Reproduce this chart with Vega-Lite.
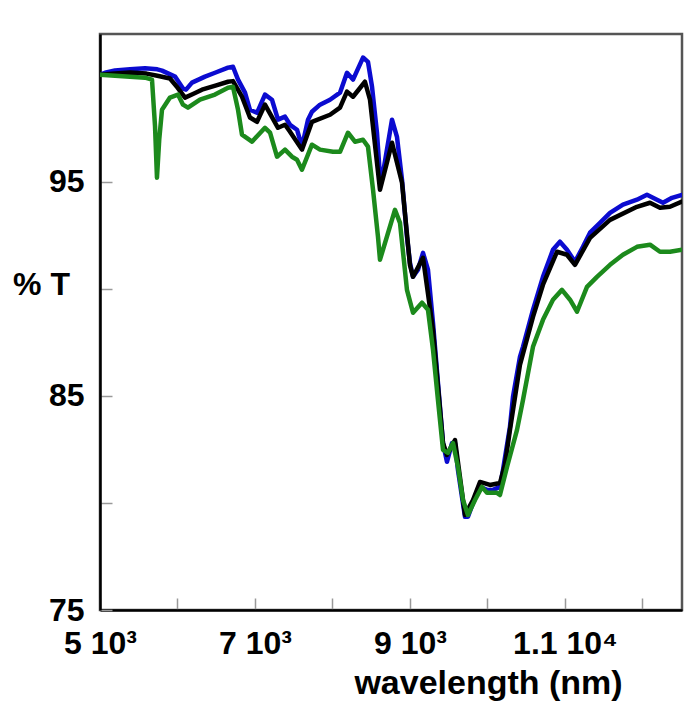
{
  "$schema": "https://vega.github.io/schema/vega-lite/v6.json",
  "width": 582,
  "height": 576,
  "autosize": "none",
  "padding": {"left": 100, "top": 34, "right": 3, "bottom": 99},
  "background": "white",
  "config": {
    "view": {"stroke": "#555555", "strokeWidth": 2.5},
    "font": "Liberation Sans"
  },
  "datasets": {
    "blue": [
      {"wl":5000,"t":100.0},{"wl":5065,"t":100.09},{"wl":5194,"t":100.2},{"wl":5387,"t":100.25},{"wl":5581,"t":100.3},{"wl":5740,"t":100.25},{"wl":5800,"t":100.19},{"wl":5968,"t":99.91},{"wl":6071,"t":99.35},{"wl":6110,"t":99.3},{"wl":6187,"t":99.63},{"wl":6355,"t":99.91},{"wl":6484,"t":100.09},{"wl":6652,"t":100.33},{"wl":6716,"t":100.37},{"wl":6781,"t":99.77},{"wl":6871,"t":99.16},{"wl":6935,"t":98.36},{"wl":7026,"t":98.22},{"wl":7129,"t":99.07},{"wl":7219,"t":98.83},{"wl":7297,"t":97.9},{"wl":7387,"t":98.04},{"wl":7452,"t":97.66},{"wl":7542,"t":97.43},{"wl":7606,"t":96.64},{"wl":7684,"t":97.9},{"wl":7735,"t":98.27},{"wl":7839,"t":98.6},{"wl":7968,"t":98.83},{"wl":8097,"t":99.16},{"wl":8187,"t":100.09},{"wl":8265,"t":99.77},{"wl":8394,"t":100.8},{"wl":8458,"t":100.6},{"wl":8510,"t":99.44},{"wl":8574,"t":97.29},{"wl":8613,"t":95.23},{"wl":8652,"t":95.42},{"wl":8768,"t":97.9},{"wl":8832,"t":97.1},{"wl":8897,"t":95.09},{"wl":8961,"t":92.43},{"wl":9000,"t":91.21},{"wl":9039,"t":90.56},{"wl":9103,"t":90.89},{"wl":9168,"t":91.68},{"wl":9232,"t":90.89},{"wl":9297,"t":88.41},{"wl":9361,"t":85.61},{"wl":9426,"t":82.8},{"wl":9477,"t":81.92},{"wl":9542,"t":82.8},{"wl":9581,"t":82.8},{"wl":9619,"t":81.54},{"wl":9671,"t":80.28},{"wl":9710,"t":79.35},{"wl":9748,"t":79.35},{"wl":9813,"t":80.0},{"wl":9903,"t":80.75},{"wl":9994,"t":80.61},{"wl":10071,"t":80.61},{"wl":10161,"t":80.75},{"wl":10200,"t":81.54},{"wl":10290,"t":83.55},{"wl":10329,"t":84.95},{"wl":10419,"t":86.82},{"wl":10458,"t":87.29},{"wl":10587,"t":89.02},{"wl":10716,"t":90.56},{"wl":10845,"t":91.82},{"wl":10935,"t":92.2},{"wl":11026,"t":91.82},{"wl":11129,"t":91.26},{"wl":11232,"t":91.96},{"wl":11323,"t":92.62},{"wl":11452,"t":93.08},{"wl":11581,"t":93.55},{"wl":11748,"t":93.93},{"wl":11929,"t":94.16},{"wl":12058,"t":94.39},{"wl":12187,"t":94.16},{"wl":12265,"t":94.02},{"wl":12381,"t":94.25},{"wl":12510,"t":94.39}
    ],
    "black": [
      {"wl":5000,"t":100.0},{"wl":5194,"t":100.05},{"wl":5387,"t":100.1},{"wl":5600,"t":100.05},{"wl":5740,"t":99.95},{"wl":5903,"t":99.82},{"wl":6000,"t":99.4},{"wl":6097,"t":98.93},{"wl":6200,"t":99.1},{"wl":6316,"t":99.3},{"wl":6500,"t":99.5},{"wl":6652,"t":99.67},{"wl":6716,"t":99.7},{"wl":6832,"t":98.97},{"wl":6935,"t":98.0},{"wl":7026,"t":97.8},{"wl":7129,"t":98.6},{"wl":7297,"t":97.52},{"wl":7387,"t":97.66},{"wl":7452,"t":97.34},{"wl":7606,"t":96.5},{"wl":7735,"t":97.8},{"wl":7968,"t":98.13},{"wl":8097,"t":98.46},{"wl":8187,"t":99.21},{"wl":8265,"t":98.97},{"wl":8419,"t":99.67},{"wl":8484,"t":98.83},{"wl":8613,"t":94.63},{"wl":8768,"t":96.82},{"wl":8897,"t":94.95},{"wl":9000,"t":91.1},{"wl":9039,"t":90.56},{"wl":9168,"t":91.45},{"wl":9297,"t":88.08},{"wl":9426,"t":82.8},{"wl":9477,"t":82.24},{"wl":9581,"t":82.94},{"wl":9710,"t":79.44},{"wl":9813,"t":80.14},{"wl":9903,"t":80.98},{"wl":10032,"t":80.84},{"wl":10161,"t":80.93},{"wl":10226,"t":81.8},{"wl":10290,"t":83.41},{"wl":10419,"t":86.45},{"wl":10587,"t":88.69},{"wl":10716,"t":90.19},{"wl":10897,"t":91.73},{"wl":11026,"t":91.59},{"wl":11129,"t":91.12},{"wl":11323,"t":92.38},{"wl":11581,"t":93.22},{"wl":11929,"t":93.83},{"wl":12097,"t":94.02},{"wl":12226,"t":93.79},{"wl":12355,"t":93.83},{"wl":12510,"t":94.07}
    ],
    "green": [
      {"wl":5000,"t":100.0},{"wl":5194,"t":99.95},{"wl":5387,"t":99.9},{"wl":5581,"t":99.86},{"wl":5671,"t":99.77},{"wl":5710,"t":97.6},{"wl":5735,"t":95.19},{"wl":5765,"t":97.0},{"wl":5800,"t":98.36},{"wl":5903,"t":98.93},{"wl":6006,"t":99.07},{"wl":6071,"t":98.6},{"wl":6135,"t":98.46},{"wl":6290,"t":98.83},{"wl":6484,"t":99.07},{"wl":6652,"t":99.39},{"wl":6716,"t":99.44},{"wl":6781,"t":98.36},{"wl":6832,"t":97.2},{"wl":6961,"t":96.87},{"wl":7129,"t":97.52},{"wl":7194,"t":97.29},{"wl":7284,"t":96.17},{"wl":7387,"t":96.5},{"wl":7477,"t":96.17},{"wl":7542,"t":96.03},{"wl":7606,"t":95.56},{"wl":7735,"t":96.73},{"wl":7839,"t":96.5},{"wl":8006,"t":96.4},{"wl":8097,"t":96.4},{"wl":8200,"t":97.29},{"wl":8290,"t":96.87},{"wl":8394,"t":96.96},{"wl":8458,"t":96.64},{"wl":8523,"t":94.63},{"wl":8587,"t":92.43},{"wl":8613,"t":91.36},{"wl":8806,"t":93.69},{"wl":8871,"t":93.08},{"wl":8961,"t":89.95},{"wl":9039,"t":88.88},{"wl":9155,"t":89.35},{"wl":9232,"t":89.02},{"wl":9297,"t":87.15},{"wl":9361,"t":84.81},{"wl":9426,"t":82.48},{"wl":9490,"t":82.34},{"wl":9555,"t":82.8},{"wl":9619,"t":81.68},{"wl":9684,"t":80.14},{"wl":9748,"t":79.44},{"wl":9839,"t":80.14},{"wl":9929,"t":80.75},{"wl":9994,"t":80.47},{"wl":10123,"t":80.47},{"wl":10161,"t":80.37},{"wl":10252,"t":81.68},{"wl":10381,"t":83.41},{"wl":10458,"t":84.81},{"wl":10587,"t":87.29},{"wl":10716,"t":88.55},{"wl":10845,"t":89.49},{"wl":10961,"t":89.95},{"wl":11065,"t":89.49},{"wl":11155,"t":88.93},{"wl":11284,"t":90.09},{"wl":11413,"t":90.56},{"wl":11581,"t":91.12},{"wl":11748,"t":91.59},{"wl":11929,"t":91.96},{"wl":12097,"t":92.06},{"wl":12226,"t":91.73},{"wl":12355,"t":91.73},{"wl":12510,"t":91.82}
    ]
  },
  "encoding": {
    "x": {
      "field": "wl", "type": "quantitative",
      "scale": {"domain": [5000, 12510], "nice": false, "zero": false},
      "axis": {
        "title": "wavelength (nm)",
        "values": [5000, 6000, 7000, 8000, 9000, 10000, 11000, 12000],
        "labelExpr": "datum.value == 5000 ? '5 10³' : datum.value == 7000 ? '7 10³' : datum.value == 9000 ? '9 10³' : datum.value == 11000 ? '1.1 10⁴' : ''",
        "labelFont": "Liberation Sans", "labelFontWeight": "bold", "labelFontSize": 32, "labelColor": "black",
        "labelFlush": false, "labelOverlap": false, "labelBaseline": "middle", "labelPadding": 45,
        "tickColor": "#999999", "tickSize": -12, "tickWidth": 1.5,
        "domainColor": "black", "domainWidth": 2.5, "grid": false,
        "titleFont": "Liberation Sans", "titleFontWeight": "bold", "titleFontSize": 34, "titleColor": "black",
        "titleX": 388, "titleY": 73, "titleAlign": "center", "titleBaseline": "middle"
      }
    },
    "y": {
      "field": "t", "type": "quantitative",
      "scale": {"domain": [75, 101.9], "nice": false, "zero": false},
      "axis": {
        "title": "% T",
        "values": [75, 80, 85, 90, 95, 100],
        "labelExpr": "datum.value == 75 || datum.value == 85 || datum.value == 95 ? datum.label : ''",
        "labelFont": "Liberation Sans", "labelFontWeight": "bold", "labelFontSize": 32, "labelColor": "black",
        "labelFlush": false, "labelOverlap": false, "labelBaseline": "middle", "labelPadding": 28,
        "tickColor": "#999999", "tickSize": -12, "tickWidth": 1.5,
        "domainColor": "black", "domainWidth": 2.5, "grid": false,
        "titleFont": "Liberation Sans", "titleFontWeight": "bold", "titleFontSize": 32, "titleColor": "black",
        "titleAngle": 0, "titleX": -59, "titleY": 250, "titleAlign": "center", "titleBaseline": "middle"
      }
    }
  },
  "layer": [
    {"data": {"name": "blue"}, "mark": {"type": "line", "color": "#0b0bd0", "strokeWidth": 4.5, "strokeJoin": "round", "strokeCap": "round", "clip": true}},
    {"data": {"name": "black"}, "mark": {"type": "line", "color": "#000000", "strokeWidth": 4.5, "strokeJoin": "round", "strokeCap": "round", "clip": true}},
    {"data": {"name": "green"}, "mark": {"type": "line", "color": "#1c8a1c", "strokeWidth": 4.5, "strokeJoin": "round", "strokeCap": "round", "clip": true}}
  ]
}
